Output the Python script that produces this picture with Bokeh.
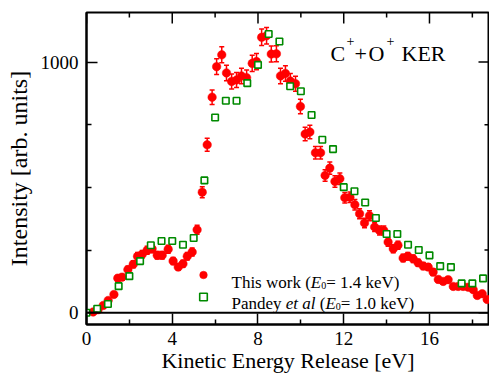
import math
from bokeh.plotting import figure
from bokeh.models import (ColumnDataSource, Whisker, TeeHead, Span, Label, Legend,
                          LegendItem, LinearAxis, FixedTicker, Range1d)
from bokeh.embed import file_html
from bokeh.resources import INLINE
from bokeh.core.properties import value

# ---------------- data ----------------
this_x = [0.31, 0.54, 0.78, 1.01, 1.28, 1.46, 1.66, 1.93, 2.18, 2.38, 2.60, 2.83, 3.06, 3.30,
          3.53, 3.81, 4.04, 4.28, 4.50, 4.70, 4.93, 5.16, 5.40, 5.63, 5.86, 6.07, 6.31, 6.53,
          6.77, 7.00, 7.23, 7.47, 7.73, 7.93, 8.17, 8.40, 8.62, 8.86, 9.05, 9.28, 9.51, 9.75,
          9.98, 10.20, 10.42, 10.68, 10.92, 11.13, 11.35, 11.59, 11.82, 12.05, 12.29, 12.52,
          12.74, 12.97, 13.20, 13.44, 13.67, 13.87, 14.07, 14.31, 14.53, 14.77, 14.99, 15.24,
          15.47, 15.71, 15.94, 16.17, 16.41, 16.64, 16.87, 17.11, 17.34, 17.57, 17.81, 18.04,
          18.23, 18.46, 18.69]
this_y = [3, 12, 29, 49, 73, 138, 142, 172, 193, 225, 233, 249, 255, 229,
          229, 253, 206, 182, 195, 225, 242, 331, 481, 670, 860, 982, 1029, 957,
          923, 929, 945, 938, 995, 1002, 1099, 1105, 1032, 1033, 945, 955, 925, 914,
          823, 713, 721, 638, 638, 548, 577, 524, 535, 459, 461, 431,
          395, 358, 387, 342, 328, 328, 282, 255, 269, 218, 225, 215,
          199, 186, 182, 162, 133, 125, 132, 105, 105, 105, 102, 92,
          69, 76, 53]
this_err = [2, 3, 5, 7, 9, 12, 12, 13, 14, 15, 15, 16, 16, 15,
            15, 16, 14, 13, 14, 15, 16, 18, 22, 26, 29, 31, 32, 31,
            30, 30, 31, 31, 32, 32, 33, 33, 32, 32, 31, 31, 30, 30,
            29, 27, 27, 25, 25, 23, 24, 23, 23, 21, 21, 21,
            20, 19, 20, 18, 18, 18, 17, 16, 16, 15, 15, 15,
            14, 14, 13, 13, 12, 11, 11, 10, 10, 10, 10, 10,
            8, 9, 7]

pandey_x = [0.0, 0.5, 1.0, 1.5, 2.0, 2.5, 3.0, 3.5, 4.0, 4.5, 5.0, 5.5, 6.0, 6.5, 7.0, 7.5,
            8.0, 8.5, 9.0, 9.5, 10.0, 10.5, 11.0, 11.5, 12.0, 12.5, 13.0, 13.5, 14.0, 14.5,
            15.0, 15.5, 16.0, 16.5, 17.0, 17.5, 18.0, 18.5]
pandey_y = [0, 16, 35, 106, 146, 206, 269, 286, 286, 271, 298, 528, 779, 846, 846, 916,
            989, 1112, 1082, 904, 884, 789, 690, 653, 501, 485, 440, 378, 314, 314,
            271, 250, 229, 186, 182, 117, 117, 137]

x_major = [0, 4, 8, 12, 16]
x_minor = [2, 6, 10, 14, 18]
y_major = [0, 1000]
y_minor = [250, 500, 750]

FONT = "Liberation Serif"
MAJ, MIN = 11, 5

x_range = Range1d(0, 18.8)
y_range = Range1d(-47, 1198)

p = figure(width=489, height=377, output_backend="svg", toolbar_location=None,
           x_range=x_range, y_range=y_range,
           min_border_left=86, min_border_right=0, min_border_top=12, min_border_bottom=53)
p.xaxis.visible = False
p.yaxis.visible = False
p.grid.visible = False
p.outline_line_color = "black"
p.outline_line_width = 2
p.background_fill_color = "white"
p.border_fill_color = "white"


def style_axis(ax, ticks, minor):
    ax.ticker = FixedTicker(ticks=ticks, minor_ticks=minor)
    ax.axis_line_color = "black"
    ax.axis_line_width = 2
    ax.major_tick_in = MAJ
    ax.major_tick_out = 0
    ax.minor_tick_in = MIN
    ax.minor_tick_out = 0
    ax.major_tick_line_width = 1.5
    ax.minor_tick_line_width = 1.5
    ax.major_label_text_font = FONT
    ax.major_label_text_font_size = "19px"
    ax.major_label_text_color = "black"
    ax.axis_label_text_font = FONT
    ax.axis_label_text_font_style = "normal"
    ax.axis_label_text_color = "black"


xb = LinearAxis(axis_label="Kinetic Energy Release [eV]")
style_axis(xb, x_major, x_minor)
xb.major_label_standoff = 7
xb.axis_label_standoff = 0
xb.axis_label_text_font_size = "22px"
p.add_layout(xb, "below")

yl = LinearAxis(axis_label="Intensity [arb. units]")
style_axis(yl, y_major, y_minor)
yl.major_label_standoff = 8
yl.axis_label_standoff = 6
yl.axis_label_text_font_size = "24px"
p.add_layout(yl, "left")

# mirrored inward ticks on the top and right edges
tick_kw = dict(line_color="black", line_width=1.5, length_units="screen")
p.ray(x=x_major, y=[y_range.end] * len(x_major), length=MAJ, angle=-math.pi / 2, **tick_kw)
p.ray(x=x_minor, y=[y_range.end] * len(x_minor), length=MIN, angle=-math.pi / 2, **tick_kw)
p.ray(x=[x_range.end] * len(y_major), y=y_major, length=MAJ, angle=math.pi, **tick_kw)
p.ray(x=[x_range.end] * len(y_minor), y=y_minor, length=MIN, angle=math.pi, **tick_kw)

p.add_layout(Span(location=0, dimension="width", line_color="black", line_width=2))

RED = "#ff0000"
GREEN = "#008a00"

src = ColumnDataSource(dict(x=this_x, y=this_y,
                            upper=[a + b for a, b in zip(this_y, this_err)],
                            lower=[a - b for a, b in zip(this_y, this_err)]))
wh = Whisker(source=src, base="x", upper="upper", lower="lower",
             line_color=RED, line_width=1.5,
             upper_head=TeeHead(size=5, line_color=RED, line_width=1.5),
             lower_head=TeeHead(size=5, line_color=RED, line_width=1.5))
p.add_layout(wh)

r_red = p.scatter("x", "y", source=src, marker="circle", size=8.5,
                  fill_color=RED, line_color=RED, line_width=0.5)
r_green = p.scatter(pandey_x, pandey_y, marker="square", size=6.5,
                    fill_color="white", line_color=GREEN, line_width=1.6)

# legend glyphs (labels are composed as rich text below)
leg = Legend(items=[LegendItem(label=value(""), renderers=[r_red]),
                    LegendItem(label=value(""), renderers=[r_green])],
             location=(107, 18), orientation="vertical",
             glyph_width=20, glyph_height=19, label_height=19, label_width=1,
             spacing=3, padding=0, margin=0, label_standoff=0,
             label_text_font=FONT, label_text_font_size="17px", border_line_color=None,
             background_fill_alpha=0)
p.add_layout(leg, "center")

W_REG = {" ": 250, "(": 333, ")": 333, ".": 250, "=": 564, "+": 564,
         "0": 500, "1": 500, "4": 500, "P": 556, "T": 611, "V": 722, "a": 444,
         "d": 500, "e": 444, "h": 500, "i": 278, "k": 500, "n": 500, "o": 500,
         "r": 333, "s": 389, "w": 722, "y": 500, "C": 667, "O": 722, "K": 722,
         "E": 611, "R": 667}
W_IT = {"E": 611, "e": 444, "t": 278, " ": 250, "a": 500, "l": 278}


def width(txt, size, italic):
    tab = W_IT if italic else W_REG
    return sum(tab.get(c, 500) for c in txt) * size / 1000.0


def rich(pieces, x0, y0):
    x = x0
    for txt, size, italic, dy in pieces:
        lead = len(txt) - len(txt.lstrip(" "))
        x += lead * W_REG[" "] * size / 1000.0
        body = txt.strip(" ")
        p.add_layout(Label(x=x, y=y0 + dy, x_units="screen", y_units="screen",
                           text=body, text_font=FONT, text_font_size=f"{size}px",
                           text_font_style="italic" if italic else "normal",
                           text_color="black", text_baseline="alphabetic",
                           text_align="left"))
        x += width(txt.lstrip(" "), size, italic)


LS = 17
rich([("This work (", LS, False, 0), ("E", LS, True, 0), ("0", 10, False, -3),
      ("= 1.4 keV)", LS, False, 0)], 145, 42.5)
rich([("Pandey ", LS, False, 0), ("et al", LS, True, 0), (" (", LS, False, 0),
      ("E", LS, True, 0), ("0", 10, False, -3), ("= 1.0 keV)", LS, False, 0)], 145, 21.5)

# annotation C+ + O+ KER
TS = 22
for txt, xs, size, dy in [("C", 244, TS, 0), ("+", 260, 14, 13), ("+", 268, TS, 0),
                          ("O", 282, TS, 0), ("+", 300, 14, 13), ("KER", 315, TS, 0)]:
    p.add_layout(Label(x=xs, y=271 + dy, x_units="screen", y_units="screen",
                       text=txt, text_font=FONT, text_font_size=f"{size}px",
                       text_color="black", text_baseline="alphabetic", text_align="left"))

open("out.html", "w").write(file_html(p, INLINE))
